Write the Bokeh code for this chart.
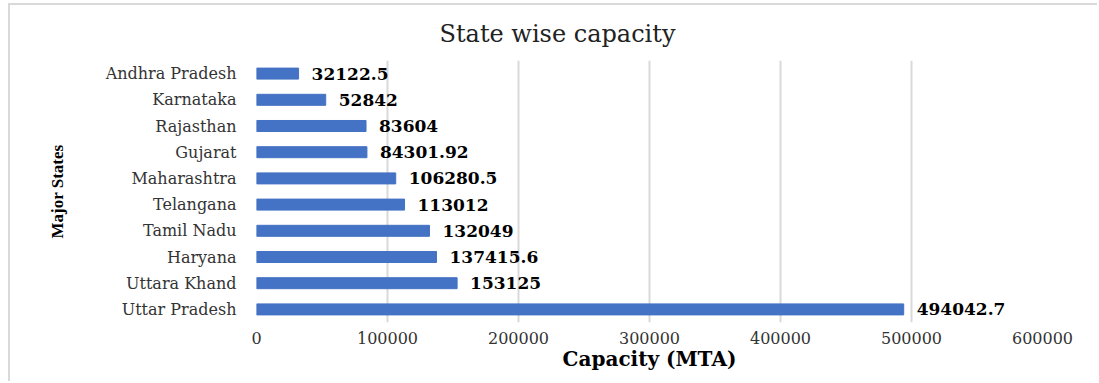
from bokeh.plotting import figure
from bokeh.models import Range1d, FactorRange, FixedTicker, BasicTickFormatter, ColumnDataSource
from bokeh.core.properties import value
from bokeh.embed import file_html
from bokeh.resources import INLINE

# top-to-bottom order as shown
states = ["Andhra Pradesh", "Karnataka", "Rajasthan", "Gujarat", "Maharashtra",
          "Telangana", "Tamil Nadu", "Haryana", "Uttara Khand", "Uttar Pradesh"]
capacity = [32122.5, 52842, 83604, 84301.92, 106280.5,
            113012, 132049, 137415.6, 153125, 494042.7]
x_ticks = [0, 100000, 200000, 300000, 400000, 500000, 600000]

FONT = "DejaVu Serif"
GRID = "#d9d9d9"
BAR = "#4472C4"

labels = [("%f" % v).rstrip("0").rstrip(".") for v in capacity]
src = ColumnDataSource(dict(state=states, cap=capacity, lab=labels))

p = figure(width=1089, height=378, output_backend="svg", toolbar_location=None,
           y_range=FactorRange(factors=states[::-1]),
           x_range=Range1d(0, 600000),
           min_border_left=246, min_border_right=57, min_border_top=54, min_border_bottom=61)
p.styles = {"margin-left": "8px", "margin-top": "3px",
            "border-left": "2px solid #d9d9d9", "border-top": "2px solid #d9d9d9"}

p.hbar(y="state", right="cap", left=0, height=0.42, color=BAR, source=src)
p.text(x="cap", y="state", text="lab", source=src, x_offset=13,
       text_align="left", text_baseline="middle",
       text_font=value(FONT), text_font_style="bold", text_font_size="17px",
       text_color="#000000")

p.title.text = "State wise capacity"
p.title.text_font = FONT
p.title.text_font_style = "normal"
p.title.text_font_size = "24px"
p.title.text_color = "#222222"
p.title.align = "left"
p.title.offset = 183
p.title.standoff = 25

p.outline_line_color = None
p.background_fill_color = "white"
p.border_fill_color = "white"

p.ygrid.grid_line_color = None
p.xgrid.grid_line_color = GRID
p.xgrid.grid_line_width = 2
p.xaxis.ticker = FixedTicker(ticks=x_ticks)
p.xaxis.formatter = BasicTickFormatter(use_scientific=False)

for ax in (p.xaxis[0], p.yaxis[0]):
    ax.axis_line_color = None
    ax.major_tick_line_color = None
    ax.minor_tick_line_color = None
    ax.major_tick_out = 0
    ax.major_tick_in = 0
    ax.major_label_text_font = FONT
    ax.major_label_text_font_size = "16px"
    ax.major_label_text_color = "#333333"
    ax.axis_label_text_font = FONT
    ax.axis_label_text_font_style = "bold"
    ax.axis_label_text_color = "#000000"

p.xaxis.axis_label = "Capacity (MTA)"
p.xaxis.axis_label_text_font_size = "20px"
p.xaxis.major_label_standoff = 9
p.xaxis.axis_label_standoff = 0

p.yaxis.axis_label = "Major States"
p.yaxis.axis_label_text_font = "Liberation Serif"
p.yaxis.axis_label_text_font_size = "17px"
p.yaxis.major_label_standoff = 20
p.yaxis.axis_label_standoff = 36

open("out.html", "w").write(file_html(p, INLINE))
